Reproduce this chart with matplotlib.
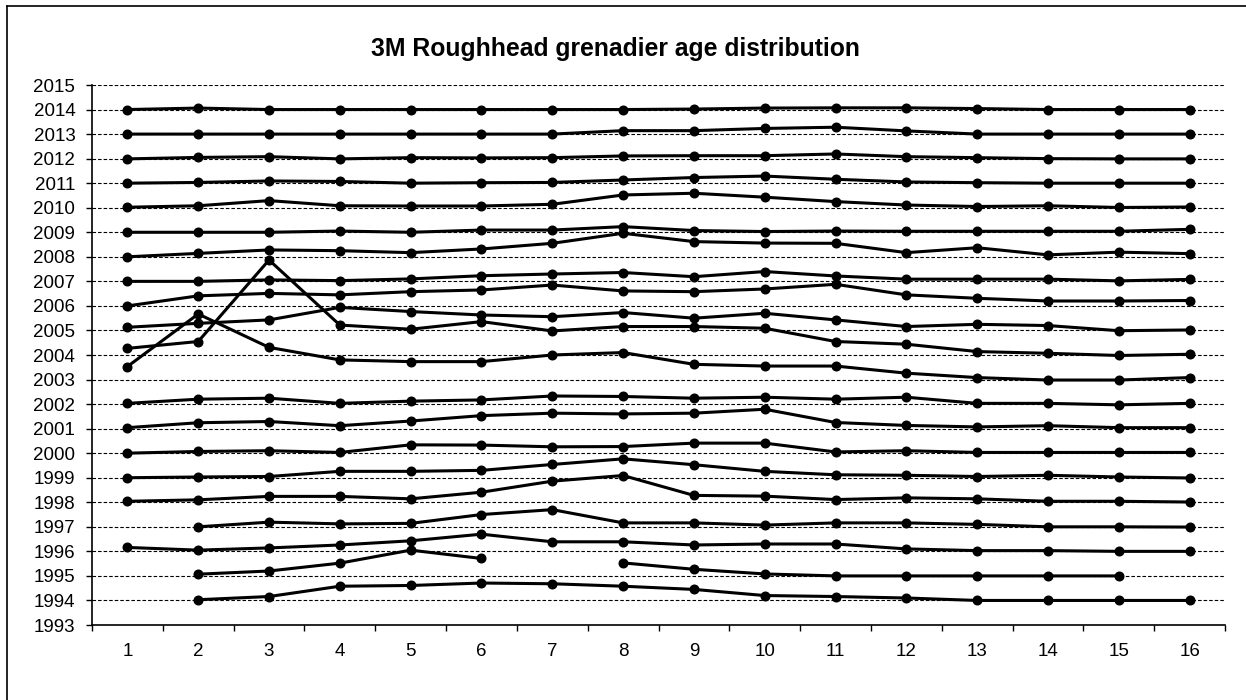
import numpy as np
import matplotlib
matplotlib.use("Agg")
import matplotlib.pyplot as plt
from matplotlib.ticker import FixedLocator, NullFormatter
from matplotlib.lines import Line2D

nan = np.nan
ages = list(range(1, 17))
age_labels = [str(a) for a in ages]

y2014 = [2014.0, 2014.06, 2014.0, 2014.0, 2014.0, 2014.0, 2014.0, 2014.0, 2014.02, 2014.06, 2014.07, 2014.07, 2014.04, 2014.0, 2014.0, 2014.0]
y2013 = [2013.0, 2013.0, 2013.0, 2013.0, 2013.0, 2013.0, 2013.0, 2013.14, 2013.14, 2013.23, 2013.28, 2013.13, 2013.0, 2013.0, 2013.0, 2013.0]
y2012 = [2011.99, 2012.05, 2012.08, 2011.99, 2012.04, 2012.03, 2012.04, 2012.11, 2012.12, 2012.12, 2012.19, 2012.08, 2012.04, 2012.0, 2011.99, 2011.99]
y2011 = [2011.0, 2011.03, 2011.09, 2011.07, 2011.0, 2011.02, 2011.03, 2011.13, 2011.23, 2011.29, 2011.16, 2011.05, 2011.02, 2011.0, 2011.0, 2011.0]
y2010 = [2010.02, 2010.08, 2010.29, 2010.08, 2010.07, 2010.07, 2010.14, 2010.52, 2010.59, 2010.43, 2010.25, 2010.11, 2010.05, 2010.08, 2010.01, 2010.03]
y2009 = [2009.0, 2009.0, 2009.0, 2009.05, 2009.0, 2009.09, 2009.09, 2009.23, 2009.07, 2009.03, 2009.05, 2009.04, 2009.04, 2009.04, 2009.04, 2009.12]
y2008 = [2008.0, 2008.14, 2008.28, 2008.25, 2008.17, 2008.32, 2008.55, 2008.96, 2008.62, 2008.56, 2008.55, 2008.17, 2008.37, 2008.08, 2008.19, 2008.13]
y2007 = [2007.0, 2007.0, 2007.06, 2007.03, 2007.1, 2007.23, 2007.3, 2007.36, 2007.19, 2007.4, 2007.22, 2007.09, 2007.09, 2007.09, 2007.02, 2007.08]
y2006 = [2006.0, 2006.41, 2006.51, 2006.45, 2006.58, 2006.65, 2006.85, 2006.61, 2006.58, 2006.69, 2006.88, 2006.45, 2006.31, 2006.2, 2006.2, 2006.22]
y2005 = [2005.13, 2005.29, 2005.43, 2005.94, 2005.77, 2005.63, 2005.56, 2005.73, 2005.5, 2005.7, 2005.43, 2005.16, 2005.25, 2005.2, 2004.99, 2005.02]
y2004 = [2004.27, 2004.55, 2007.87, 2005.22, 2005.05, 2005.36, 2004.98, 2005.16, 2005.16, 2005.09, 2004.55, 2004.44, 2004.14, 2004.07, 2003.98, 2004.03]
y2003 = [2003.53, 2005.67, 2004.31, 2003.8, 2003.73, 2003.73, 2004.0, 2004.1, 2003.62, 2003.55, 2003.55, 2003.26, 2003.08, 2002.98, 2002.98, 2003.08]
y2002 = [2002.03, 2002.2, 2002.24, 2002.03, 2002.12, 2002.17, 2002.33, 2002.31, 2002.24, 2002.28, 2002.2, 2002.28, 2002.03, 2002.03, 2001.97, 2002.03]
y2001 = [2001.04, 2001.24, 2001.29, 2001.12, 2001.31, 2001.53, 2001.63, 2001.6, 2001.63, 2001.79, 2001.25, 2001.13, 2001.07, 2001.12, 2001.04, 2001.04]
y2000 = [2000.0, 2000.07, 2000.1, 2000.03, 2000.34, 2000.33, 2000.26, 2000.27, 2000.41, 2000.41, 2000.05, 2000.1, 2000.03, 2000.03, 2000.03, 2000.03]
y1999 = [1999.0, 1999.03, 1999.05, 1999.26, 1999.26, 1999.3, 1999.54, 1999.77, 1999.53, 1999.26, 1999.12, 1999.1, 1999.05, 1999.1, 1999.03, 1998.99]
y1998 = [1998.04, 1998.1, 1998.24, 1998.24, 1998.14, 1998.41, 1998.86, 1999.09, 1998.28, 1998.25, 1998.11, 1998.18, 1998.14, 1998.04, 1998.04, 1998.01]
y1997 = [nan, 1997.0, 1997.19, 1997.12, 1997.14, 1997.5, 1997.7, 1997.16, 1997.16, 1997.07, 1997.16, 1997.16, 1997.1, 1997.0, 1997.0, 1996.99]
y1996 = [1996.16, 1996.05, 1996.14, 1996.26, 1996.43, 1996.7, 1996.39, 1996.39, 1996.26, 1996.3, 1996.3, 1996.1, 1996.03, 1996.03, 1996.0, 1996.0]
y1995 = [nan, 1995.07, 1995.2, 1995.52, 1996.05, 1995.71, nan, 1995.53, 1995.27, 1995.08, 1995.0, 1995.0, 1995.0, 1995.0, 1995.0, nan]
y1994 = [nan, 1994.03, 1994.16, 1994.58, 1994.61, 1994.71, 1994.68, 1994.58, 1994.45, 1994.2, 1994.16, 1994.1, 1994.0, 1994.0, 1994.0, 1994.0]

series = [y2014, y2013, y2012, y2011, y2010, y2009, y2008, y2007, y2006, y2005,
          y2004, y2003, y2002, y2001, y2000, y1999, y1998, y1997, y1996, y1995, y1994]
year_ticks = list(range(1993, 2016))
title = "3M Roughhead grenadier age distribution"

plt.rcParams['font.family'] = ['Liberation Sans', 'DejaVu Sans']

fig = plt.figure(figsize=(12.46, 7.0), dpi=100)
W, H = 1246, 700
ax = fig.add_axes([92 / W, 1 - 625 / H, (1225 - 92) / W, (625 - 85) / H])

for yt in year_ticks[1:]:
    ax.axhline(yt, color='black', lw=0.8, ls=(0, (3.2, 1.8)), zorder=1)

for s in series:
    ax.plot(ages, s, color='black', lw=2.2, marker='o', ms=6.2, zorder=3,
            solid_joinstyle='round', solid_capstyle='round')

ax.set_xlim(0.5, 16.5)
ax.set_ylim(1993, 2015)
ax.set_yticks(year_ticks)
ax.set_yticklabels([str(y) for y in year_ticks])
ax.set_xticks(ages)
ax.set_xticklabels(age_labels)
ax.xaxis.set_minor_locator(FixedLocator([a + 0.5 for a in [0] + ages]))
ax.xaxis.set_minor_formatter(NullFormatter())
ax.tick_params(axis='x', which='major', length=0, pad=13, labelsize=13.5)
ax.tick_params(axis='x', which='minor', length=4.5, width=1.0, direction='out')
ax.tick_params(axis='y', which='major', length=4, width=1.0, pad=8, labelsize=13.5)
for sp in ['top', 'right']:
    ax.spines[sp].set_visible(False)
for sp in ['left', 'bottom']:
    ax.spines[sp].set_linewidth(1.2)
    ax.spines[sp].set_color('black')

fig.text(615 / W, 1 - 49 / H, title, ha='center', va='center',
         fontsize=17.8, fontweight='bold')

# chart frame (left and top edges visible)
fig.add_artist(Line2D([7 / W, 7 / W], [0, 1 - 6 / H], transform=fig.transFigure,
                      color='black', lw=1.2))
fig.add_artist(Line2D([7 / W, 1], [1 - 6 / H, 1 - 6 / H], transform=fig.transFigure,
                      color='black', lw=1.2))

fig.savefig("out.png", dpi=100)
